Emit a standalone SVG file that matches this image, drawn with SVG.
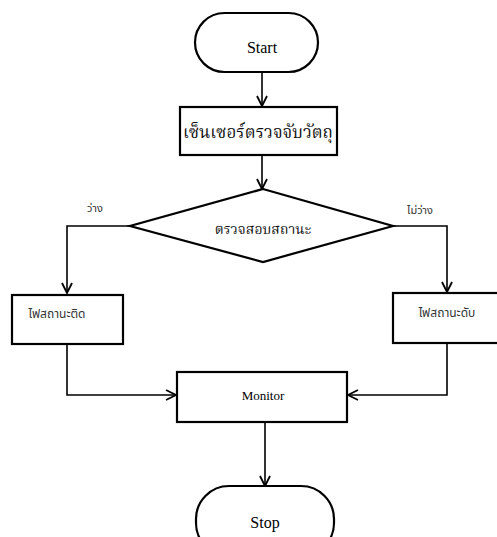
<svg xmlns="http://www.w3.org/2000/svg" width="497" height="537" viewBox="0 0 497 537">
<defs>
<style>
.shape{fill:#fff;stroke:#000;stroke-width:2.2}
.conn{fill:none;stroke:#000;stroke-width:1.6}
.en{font-family:'Liberation Serif',serif;font-weight:normal;fill:#000;text-anchor:middle}
.th{font-family:'Noto Serif Thai','Noto Sans Thai','Liberation Serif',serif;fill:#111;text-anchor:middle}
.ths{font-family:'Noto Sans Thai','Liberation Sans',sans-serif;fill:#333;text-anchor:middle}
</style>
<marker id="arr" viewBox="0 0 12 12" refX="11" refY="6" markerWidth="12" markerHeight="12" markerUnits="userSpaceOnUse" orient="auto">
<path d="M1,1 L11,6 L1,11" fill="none" stroke="#000" stroke-width="1.8"/>
</marker>
</defs>
<rect width="497" height="537" fill="#fff"/>
<g id="connectors">
<line class="conn" x1="262" y1="72" x2="262" y2="106" marker-end="url(#arr)"/>
<line class="conn" x1="262" y1="155" x2="262" y2="189" marker-end="url(#arr)"/>
<polyline class="conn" points="130,226 67,226 67,293" marker-end="url(#arr)"/>
<polyline class="conn" points="393,226 447,226 447,292" marker-end="url(#arr)"/>
<polyline class="conn" points="67,344 67,395 176,395" marker-end="url(#arr)"/>
<polyline class="conn" points="447,343 447,395 348,395" marker-end="url(#arr)"/>
<line class="conn" x1="265" y1="422" x2="265" y2="486" marker-end="url(#arr)"/>
<text class="ths" x="95" y="212" font-size="11">ว่าง</text>
<text class="ths" x="420" y="214" font-size="11">ไม่ว่าง</text>
</g>
<g id="start">
<rect class="shape" x="195" y="13" width="123" height="59" rx="29.5"/>
<text class="en" x="262" y="53" font-size="16" font-family="Liberation Serif, serif">Start</text>
</g>
<g id="sensor">
<rect class="shape" x="180" y="107" width="157" height="48"/>
<text class="th" x="258" y="138" font-size="17">เซ็นเซอร์ตรวจจับวัตถุ</text>
</g>
<g id="check">
<polygon class="shape" points="263,189 393,226 263,262 130,226" stroke-width="2.6"/>
<text class="th" x="263" y="234" font-size="14">ตรวจสอบสถานะ</text>
</g>
<g id="on">
<rect class="shape" x="12" y="295" width="111" height="49"/>
<text class="ths" x="57" y="318" font-size="12" fill="#000">ไฟสถานะติด</text>
</g>
<g id="off">
<rect class="shape" x="393" y="293" width="110" height="50"/>
<text class="ths" x="447" y="317" font-size="12" fill="#000">ไฟสถานะดับ</text>
</g>
<g id="monitor">
<rect class="shape" x="177" y="372" width="170" height="50"/>
<text class="en" x="263" y="400" font-size="13" font-family="Liberation Serif, serif">Monitor</text>
</g>
<g id="stop">
<rect class="shape" x="196" y="486" width="138" height="70" rx="33"/>
<text class="en" x="265" y="528" font-size="16" font-family="Liberation Serif, serif">Stop</text>
</g>
</svg>
